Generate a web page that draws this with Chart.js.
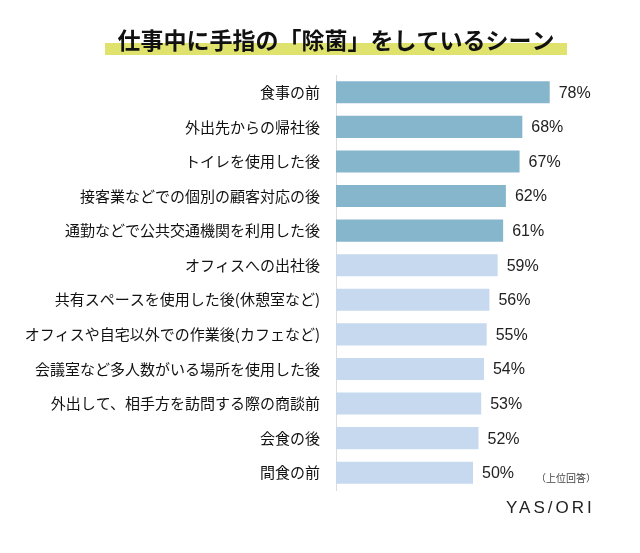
<!DOCTYPE html>
<html><head><meta charset="utf-8">
<script src="https://cdn.jsdelivr.net/npm/chart.js@4/dist/chart.umd.min.js"></script>
<style>html,body{margin:0;padding:0;background:#fff;}#wrap{width:640px;height:553px;position:relative;}</style>
</head><body><div id="wrap"><canvas id="c" width="640" height="553"></canvas></div>
<script>
const categories = ["食事の前","外出先からの帰社後","トイレを使用した後","接客業などでの個別の顧客対応の後","通勤などで公共交通機関を利用した後","オフィスへの出社後","共有スペースを使用した後(休憩室など)","オフィスや自宅以外での作業後(カフェなど)","会議室など多人数がいる場所を使用した後","外出して、相手方を訪問する際の商談前","会食の後","間食の前"];
const values = [78,68,67,62,61,59,56,55,54,53,52,50];
const title = "仕事中に手指の「除菌」をしているシーン";
const note = "（上位回答）";
const brand = "YAS/ORI";
const darkColor = "#86b6cc", lightColor = "#c6d9ef";
const colors = values.map((v,i)=> i<5 ? darkColor : lightColor);
const JP = '"Noto Sans CJK JP","Noto Sans",sans-serif';

const deco = {
  id:'deco',
  beforeDraw(chart){
    const ctx = chart.ctx;
    ctx.save();
    ctx.fillStyle = '#dfe36e';
    ctx.fillRect(105,43,462,12);
    ctx.fillStyle = '#111';
    ctx.font = 'bold 23px '+JP;
    ctx.textAlign='center'; ctx.textBaseline='alphabetic';
    ctx.fillText(title,336,49);
    ctx.restore();
  },
  afterDraw(chart){
    const ctx = chart.ctx;
    ctx.save();
    const meta = chart.getDatasetMeta(0);
    ctx.font = '16px "Liberation Sans","Noto Sans",sans-serif';
    ctx.fillStyle='#222'; ctx.textAlign='left'; ctx.textBaseline='middle';
    meta.data.forEach((bar,i)=>{ ctx.fillText(values[i]+'%', bar.x+9, bar.y+1); });
    ctx.font = '10px '+JP; ctx.fillStyle='#444';
    ctx.fillText(note, 536, 478);
    ctx.font = '17px "Liberation Sans",sans-serif'; ctx.fillStyle='#222';
    ctx.letterSpacing = '3px';
    ctx.fillText(brand, 506, 508);
    ctx.restore();
  }
};

new Chart(document.getElementById('c'),{
  type:'bar',
  data:{labels:categories,datasets:[{data:values,backgroundColor:colors,borderWidth:0,barPercentage:0.64,categoryPercentage:1}]},
  options:{
    indexAxis:'y',responsive:false,animation:false,
    layout:{padding:{top:75,bottom:63,right:30,left:0}},
    plugins:{legend:{display:false},tooltip:{enabled:false}},
    scales:{
      x:{display:false,min:0,max:100},
      y:{
        afterFit(s){s.width=336;},
        grid:{display:false,drawTicks:false},
        border:{display:true,color:'#dcdcdc',width:1},
        ticks:{color:'#111',padding:16,font:{family:JP,size:15}}
      }
    }
  },
  plugins:[deco]
});
</script></body></html>
